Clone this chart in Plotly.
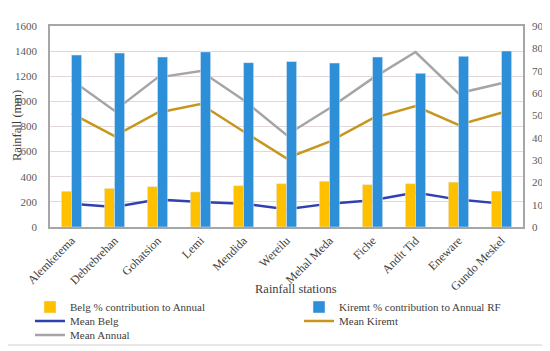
import plotly.graph_objects as go

stations = ["Alemketema", "Debrebrehan", "Gohatsion", "Lemi", "Mendida", "Wereilu",
            "Mehal Meda", "Fiche", "Andit Tid", "Eneware", "Gundo Meskel"]
belg_pct = [16.0, 17.3, 18.1, 15.7, 18.5, 19.4, 20.5, 19.0, 19.4, 20.1, 16.1]
kiremt_pct = [77.0, 77.9, 76.1, 78.4, 73.6, 74.1, 73.4, 76.1, 68.8, 76.4, 78.8]
mean_belg = [186, 159, 218, 199, 186, 141, 186, 213, 274, 218, 186]
mean_kiremt = [905, 724, 910, 979, 760, 547, 679, 865, 963, 812, 910]
mean_annual = [1170, 926, 1189, 1242, 1011, 732, 945, 1183, 1393, 1064, 1144]
left_ticks = [0, 200, 400, 600, 800, 1000, 1200, 1400, 1600]
right_ticks = [0, 10, 20, 30, 40, 50, 60, 70, 80, 90]

FONT = "Liberation Serif"
W, H = 550, 351
OFF = 8  # page body margin offset
PL, PR, PT, PB = 50 - OFF, 523 - OFF, 26 - OFF, 227 - OFF  # plot area in figure px
PW, PH = PR - PL, PB - PT


def px(xp):
    return (xp - OFF - PL) / PW


def py(yp):
    return (PB - (yp - OFF)) / PH


fig = go.Figure()
fig.add_trace(go.Bar(x=stations, y=belg_pct, name="Belg % contribution to Annual",
                     marker_color="#FFC000", yaxis="y2", legend="legend"))
fig.add_trace(go.Bar(x=stations, y=kiremt_pct, name="Kiremt % contribution to Annual RF",
                     marker_color="#2E8FD9", yaxis="y2", legend="legend2"))
fig.add_trace(go.Scatter(x=stations, y=mean_belg, name="Mean Belg", mode="lines",
                         line=dict(color="#3040B0", width=2.5), legend="legend3"))
fig.add_trace(go.Scatter(x=stations, y=mean_kiremt, name="Mean Kiremt", mode="lines",
                         line=dict(color="#C8961E", width=2.5), legend="legend4"))
fig.add_trace(go.Scatter(x=stations, y=mean_annual, name="Mean Annual", mode="lines",
                         line=dict(color="#A5A5A5", width=2.5), legend="legend5"))


def leg(px_left, px_mid):
    return dict(xref="container", yref="container", x=(px_left - OFF) / W, xanchor="left",
                y=(H - (px_mid - OFF)) / H, yanchor="middle", bgcolor="rgba(0,0,0,0)",
                font=dict(family=FONT, size=11, color="#404040"), itemwidth=30)


fig.update_layout(
    width=W, height=H,
    margin=dict(l=PL, r=W - PR, t=PT, b=H - PB, autoexpand=False),
    paper_bgcolor="white", plot_bgcolor="white",
    font=dict(family=FONT, size=11, color="#404040"),
    barmode="group", bargap=0.53, bargroupgap=0,
    showlegend=True,
    legend=leg(30, 307), legend2=leg(299, 307),
    legend3=leg(30, 321), legend4=leg(299, 321),
    legend5=leg(30, 335),
    xaxis=dict(tickangle=-45, showline=True, linecolor="#A6A6A6", linewidth=1.5,
               mirror=True, automargin=False,
               tickfont=dict(family=FONT, size=12, color="#404040")),
    yaxis=dict(range=[0, 1600], tickvals=left_ticks, showgrid=True, gridcolor="#E2D8DC",
               showline=True, linecolor="#A6A6A6", linewidth=1.5, mirror=True, automargin=False,
               tickfont=dict(family=FONT, size=11, color="#595959"), ticklabelstandoff=9,
               zeroline=False),
    yaxis2=dict(range=[0, 90], tickvals=right_ticks, overlaying="y", side="right",
                showgrid=False, zeroline=False, automargin=False,
                tickfont=dict(family=FONT, size=11, color="#595959"), ticklabelstandoff=8),
    annotations=[
        dict(text="Rainfall stations", xref="paper", yref="paper", x=px(296), y=py(289),
             xanchor="center", yanchor="middle", showarrow=False,
             font=dict(family=FONT, size=12.5, color="#404040")),
        dict(text="Rainfall (mm)", xref="paper", yref="paper", x=px(17), y=py(126),
             xanchor="center", yanchor="middle", showarrow=False, textangle=-90,
             font=dict(family=FONT, size=12.5, color="#404040")),
    ],
    shapes=[dict(type="rect", xref="paper", yref="paper",
                 x0=px(7), x1=px(545), y0=py(345), y1=py(5),
                 line=dict(color="#D0D0D0", width=1), layer="below")],
)

fig.write_html("out.html")
